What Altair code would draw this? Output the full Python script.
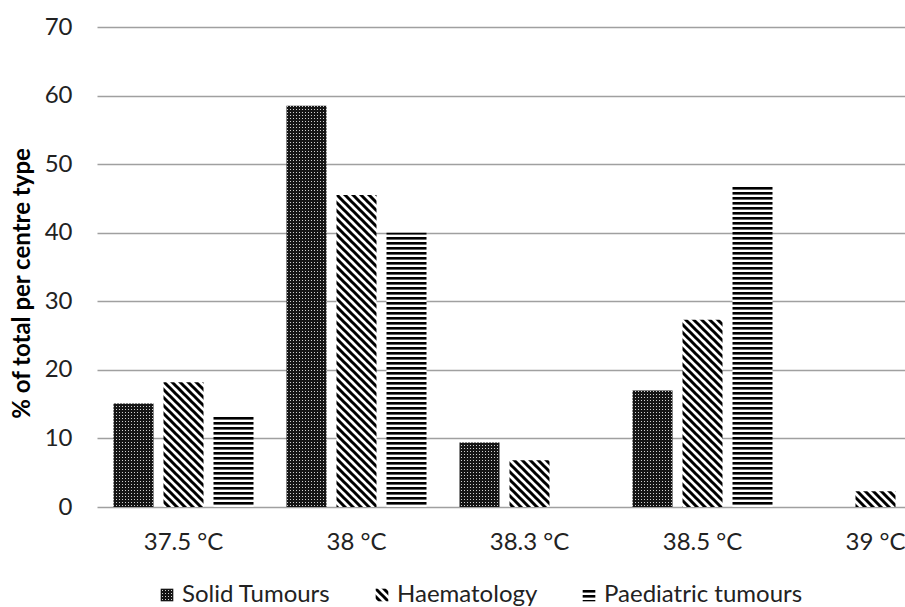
import altair as alt
import jinja2
import pandas as pd

# Fever threshold categories and share of centres (%) per centre type
temps = ["37.5 °C", "38 °C", "38.3 °C", "38.5 °C", "39 °C"]
series = ["Solid Tumours", "Haematology", "Paediatric tumours"]
solid = [15.1, 58.5, 9.4, 17.0, 0.0]
haem = [18.2, 45.5, 6.8, 27.3, 2.3]
paed = [13.3, 40.0, 0.0, 46.7, 0.0]
y_ticks = [0, 10, 20, 30, 40, 50, 60, 70]

rows = []
for name, vals in zip(series, [solid, haem, paed]):
    for t, v in zip(temps, vals):
        rows.append({"temp": t, "series": name, "value": v})
df = pd.DataFrame(rows)

# Hatch fills referenced by id from the page's SVG defs
fills = ["url(#dots)", "url(#diag)", "url(#hstripe)"]

FONT = "Lato"
TEXT = "#222222"

chart = (
    alt.Chart(df)
    .mark_bar()
    .encode(
        x=alt.X(
            "temp:N",
            sort=temps,
            scale=alt.Scale(range=[0, 865], paddingInner=33 / 173, paddingOuter=16.5 / 173),
            axis=alt.Axis(
                title=None,
                labelAngle=0,
                domain=False,
                ticks=False,
                grid=False,
                labelFontSize=24,
                labelColor=TEXT,
                labelPadding=23,
            ),
        ),
        xOffset=alt.XOffset(
            "series:N", sort=series, scale=alt.Scale(paddingInner=0.2, paddingOuter=0)
        ),
        y=alt.Y(
            "value:Q",
            scale=alt.Scale(domain=[0, 70], nice=False),
            axis=alt.Axis(
                values=y_ticks,
                title="% of total per centre type",
                titleFontSize=24,
                titleFontWeight="bold",
                titleColor="#000000",
                titleAngle=270,
                titleAlign="center",
                titleBaseline="middle",
                titleX=-75,
                titleY=256,
                domain=False,
                ticks=False,
                grid=True,
                gridColor="#a0a0a0",
                gridWidth=1.5,
                labelFontSize=24,
                labelColor=TEXT,
                labelPadding=25,
            ),
        ),
        color=alt.Color(
            "series:N",
            sort=series,
            scale=alt.Scale(domain=series, range=fills),
            legend=alt.Legend(
                title=None,
                orient="none",
                direction="horizontal",
                legendX=58,
                legendY=556,
                symbolType="square",
                symbolSize=160,
                symbolStrokeWidth=0,
                labelFontSize=24,
                labelColor=TEXT,
                labelOffset=3,
                labelLimit=400,
                columnPadding=39,
                padding=0,
            ),
        ),
    )
    .properties(
        width=808,
        height=480,
        autosize=alt.AutoSizeParams(type="none"),
        padding={"left": 97, "top": 27, "right": 0, "bottom": 100},
        background="white",
    )
    .configure(font=FONT)
    .configure_view(stroke=None)
)

# Page template: the standard embed plus SVG pattern definitions for the hatch fills
PAGE = jinja2.Template(
    """<!DOCTYPE html>
<html>
<head>
  <meta charset="utf-8">
  <style>
    body { margin: 0; }
    #{{ output_div }}.vega-embed { width: 100%; display: flex; }
  </style>
  <script type="text/javascript" src="{{ base_url }}/vega@{{ vega_version }}"></script>
  <script type="text/javascript" src="{{ base_url }}/vega-lite@{{ vegalite_version }}"></script>
  <script type="text/javascript" src="{{ base_url }}/vega-embed@{{ vegaembed_version }}"></script>
</head>
<body>
  <svg width="0" height="0" style="position:absolute">
    <defs>
      <pattern id="dots" width="3" height="3" patternUnits="userSpaceOnUse">
        <rect width="3" height="3" fill="#151515"/>
        <rect x="1" y="1" width="1" height="1" fill="#d0d0d0"/>
      </pattern>
      <pattern id="diag" width="8" height="8" patternUnits="userSpaceOnUse">
        <rect width="8" height="8" fill="#ffffff"/>
        <path d="M-2,-2 L10,10 M-2,6 L2,10 M6,-2 L10,2" stroke="#000000" stroke-width="3"/>
      </pattern>
      <pattern id="hstripe" width="5" height="5" patternUnits="userSpaceOnUse">
        <rect width="5" height="5" fill="#ffffff"/>
        <rect width="5" height="2.6" fill="#000000"/>
      </pattern>
    </defs>
  </svg>
  <div id="{{ output_div }}"></div>
  <script type="text/javascript">
    vegaEmbed("#{{ output_div }}", {{ spec }}, {{ embed_options }}).catch(console.error);
  </script>
</body>
</html>
"""
)

chart.save(
    "out.html",
    embed_options={"renderer": "svg", "actions": False},
    template=PAGE,
)
